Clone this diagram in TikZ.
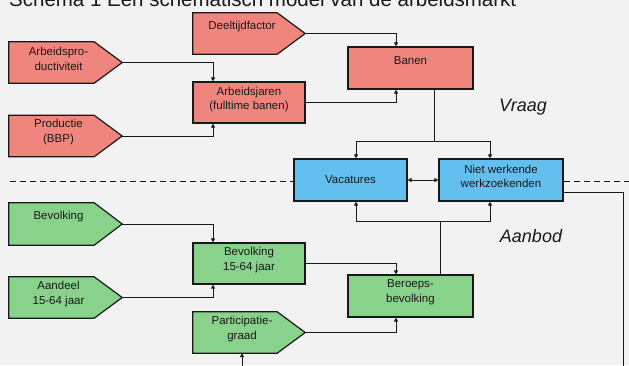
\documentclass[tikz,border=0pt]{standalone}
\usepackage{fontspec}
\setmainfont{Liberation Sans}
\usetikzlibrary{arrows.meta}
\definecolor{bg}{RGB}{242,242,242}
\definecolor{redbox}{RGB}{240,133,125}
\definecolor{greenbox}{RGB}{136,210,140}
\definecolor{bluebox}{RGB}{99,192,238}
\definecolor{ink}{RGB}{25,25,25}
\tikzset{
  boxnode/.style={draw=ink, line width=1.2pt, rectangle, inner sep=0pt},
  pentnode/.style={draw=none, rectangle, inner sep=0pt},
  pentline/.style={draw=ink, line width=1.2pt, line join=miter},
  txt/.style={font=\fontsize{11.5}{14.5}\selectfont, text=ink, align=center, inner sep=0pt},
  conn/.style={draw=ink, line width=1pt},
  arr/.style={conn, -{Triangle[length=4pt,width=4pt]}},
  arrtwo/.style={conn, {Triangle[length=4pt,width=4pt]}-{Triangle[length=4pt,width=4pt]}},
  dashline/.style={draw=ink, line width=1.3pt, dash pattern=on 6pt off 4pt},
  sidelabel/.style={font=\fontsize{18}{20}\selectfont\itshape, text=ink, inner sep=0pt}
}
\begin{document}
\begin{tikzpicture}[x=1pt,y=-1pt]
\useasboundingbox (0,0) rectangle (629,365);
\clip (0,0) rectangle (629,365);
\fill[bg] (0,0) rectangle (629,365);

% title (cut off at top)
\node[anchor=base west, inner sep=0pt, font=\fontsize{20.5}{22}\selectfont, text=ink] (title) at (9,6) {Schema 1 Een schematisch model van de arbeidsmarkt};

% pentagon nodes
\node[pentnode, minimum width=112pt, minimum height=41pt] (deel) at (249,33.5) {};
\node[pentnode, minimum width=113pt, minimum height=41pt] (aprod) at (65.5,62.5) {};
\node[pentnode, minimum width=113pt, minimum height=41pt] (prod) at (65.5,136) {};
\node[pentnode, minimum width=113pt, minimum height=42pt] (bev) at (65.5,224) {};
\node[pentnode, minimum width=113pt, minimum height=41pt] (aand) at (65.5,297.5) {};
\node[pentnode, minimum width=112pt, minimum height=41pt] (part) at (249,332.5) {};

\foreach \n/\c in {deel/redbox, aprod/redbox, prod/redbox, bev/greenbox, aand/greenbox, part/greenbox}{
  \draw[pentline, fill=\c] (\n.north west) -- ([xshift=-28pt]\n.north east) -- (\n.east) -- ([xshift=-28pt]\n.south east) -- (\n.south west) -- cycle;
}

% rectangle nodes
\node[boxnode, fill=redbox, minimum width=112pt, minimum height=41pt] (ajaren) at (249,102.5) {};
\node[boxnode, fill=redbox, minimum width=125pt, minimum height=42pt] (banen) at (410.5,68) {};
\node[boxnode, fill=bluebox, minimum width=113pt, minimum height=42pt] (vac) at (350.5,180) {};
\node[boxnode, fill=bluebox, minimum width=124pt, minimum height=42pt] (nwz) at (501,180) {};
\node[boxnode, fill=greenbox, minimum width=112pt, minimum height=41pt] (bevjr) at (249,263.5) {};
\node[boxnode, fill=greenbox, minimum width=125pt, minimum height=42pt] (beroeps) at (410.5,296) {};

% texts
\node[txt] (tdeel) at (242,26.5) {Deeltijdfactor};
\node[txt] (taprod) at (58.5,59) {Arbeidspro-\\ductiviteit};
\node[txt] (tprod) at (58.5,132) {Productie\\(BBP)};
\node[txt] (tbev) at (58.5,216.5) {Bevolking};
\node[txt] (taand) at (58.5,294) {Aandeel\\15-64 jaar};
\node[txt] (tpart) at (242,329) {Participatie-\\graad};
\node[txt] (tajaren) at (249,99.5) {Arbeidsjaren\\(fulltime banen)};
\node[txt] (tbanen) at (410.5,61) {Banen};
\node[txt] (tvac) at (350.5,180) {Vacatures};
\node[txt] (tnwz) at (501,176.5) {Niet werkende\\werkzoekenden};
\node[txt] (tbevjr) at (249,260) {Bevolking\\15-64 jaar};
\node[txt] (tberoeps) at (410.5,292) {Beroeps-\\bevolking};

\node[sidelabel] (vraag) at (523,107) {Vraag};
\node[sidelabel] (aanbod) at (531,236) {Aanbod};

% helper coordinates
\coordinate (ax) at (213,0);
\coordinate (bx) at (396,0);
\coordinate (cx) at (434,0);
\coordinate (sy) at (0,141);
\coordinate (vx) at (356,0);
\coordinate (nx) at (490,0);
\coordinate (dx) at (440,0);
\coordinate (dy) at (0,221);
\coordinate (pin) at (242,372);
\coordinate (rout) at (623,372);
\coordinate (dl) at (10,181.5);
\coordinate (dr) at (632,181.5);

% connectors
\draw[arr] (deel.east) -| (bx |- banen.north);
\draw[arr] (aprod.east) -| (ax |- ajaren.north);
\draw[arr] (prod.east) -| (ax |- ajaren.south);
\draw[arr] (ajaren.east) -| (bx |- banen.south);

\draw[conn] (cx |- banen.south) -- (cx |- sy);
\draw[arr] (cx |- sy) -| (vx |- vac.north);
\draw[arr] (cx |- sy) -| (nx |- nwz.north);

\draw[arrtwo] (vac.east) -- (nwz.west);

\draw[conn] (dx |- beroeps.north) -- (dx |- dy);
\draw[arr] (dx |- dy) -| (vx |- vac.south);
\draw[arr] (dx |- dy) -| (nx |- nwz.south);

\draw[arr] (bev.east) -| (ax |- bevjr.north);
\draw[arr] (aand.east) -| (ax |- bevjr.south);
\draw[arr] (bevjr.east) -| (bx |- beroeps.north);
\draw[arr] (part.east) -| (bx |- beroeps.south);
\draw[arr] (pin) -- (pin |- part.south);

\draw[conn] ([yshift=-12pt]nwz.east) -| (rout);

\draw[dashline] (dl) -- (dl -| vac.west);
\draw[dashline] (nwz.east |- dr) -- (dr);
\end{tikzpicture}
\end{document}
